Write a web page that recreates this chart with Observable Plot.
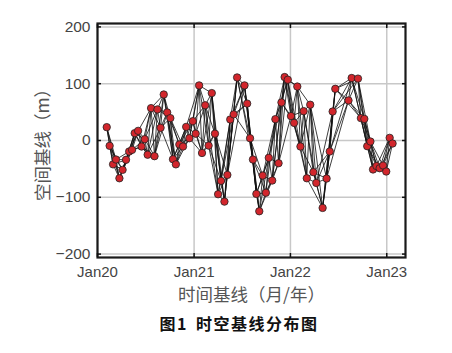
<!DOCTYPE html>
<html>
<head>
<meta charset="utf-8">
<script src="https://cdn.jsdelivr.net/npm/d3@7"></script>
<script src="https://cdn.jsdelivr.net/npm/@observablehq/plot@0.6"></script>
<style>
  html, body { margin: 0; padding: 0; background: #fff; }
  #wrap { position: relative; width: 452px; height: 353px; overflow: hidden; }
  #caption { position: absolute; left: 239px; top: 311px; transform: translateX(-50%);
    font-family: "Noto Sans CJK SC", sans-serif; font-weight: bold; font-size: 16px;
    letter-spacing: 1.5px; word-spacing: 3px; color: #111; white-space: nowrap; }
</style>
</head>
<body>
<div id="wrap"><div id="chart"></div><div id="caption">图1 时空基线分布图</div></div>
<script>
// Acquisition dates and perpendicular (spatial) baselines
const dates = [
  "2020-02-05","2020-02-16","2020-02-29","2020-03-11","2020-03-24","2020-04-05","2020-04-18","2020-04-30",
  "2020-05-11","2020-05-21","2020-06-03","2020-06-16","2020-06-28","2020-07-09","2020-07-22","2020-08-04",
  "2020-08-15","2020-08-27","2020-09-08","2020-09-21","2020-10-03","2020-10-13","2020-10-24","2020-11-06",
  "2020-11-20","2020-12-02","2020-12-14","2020-12-27","2021-01-07","2021-01-20","2021-01-31","2021-02-12",
  "2021-02-25","2021-03-09","2021-03-21","2021-04-02","2021-04-13","2021-04-26","2021-05-07","2021-05-18",
  "2021-05-31","2021-06-13","2021-07-11","2021-07-21","2021-08-01","2021-08-12","2021-08-25","2021-09-05",
  "2021-09-18","2021-09-30","2021-10-11","2021-10-24","2021-11-05","2021-11-17","2021-11-28","2021-12-10",
  "2021-12-22","2022-01-03","2022-01-15","2022-01-27","2022-02-08","2022-02-20","2022-03-04","2022-03-17",
  "2022-03-29","2022-04-09","2022-05-03","2022-05-18","2022-05-30","2022-06-10","2022-06-20","2022-08-09",
  "2022-08-21","2022-09-14","2022-09-25","2022-10-08","2022-10-19","2022-10-31","2022-11-10","2022-11-23",
  "2022-12-05","2022-12-18","2022-12-30","2023-01-12","2023-01-23"
];
const baselines = [
  23.5, -9.4, -42, -33.5, -66.5, -51.7, -34, -19.4,
  -16.5, 12.9, 17, -10.6, 2.3, -25, 57, -27.6,
  54.7, 22.4, 81, 49.4, 39.4, -33, -42, -7,
  -10.6, 24, 4, 34, 12, 97, -22, 62,
  -9, 83.5, 12, -94.6, -71, -107.6, -60.6, 37,
  46, 111, 97, 65, 4, -33.5, -94, -124.6,
  -61.7, -92, -30.5, -70.5, 37.6, -40, 67, 111.7,
  107, 43, 31, 95, -10.6, 51.7, -66.5, 63,
  -55.8, -74.7, -118.7, -67, -19.4, 51, 91, 70.5,
  110, 109, 39.4, 38, -10, -1.8, -51, -45,
  -48.8, -44, -54.6, 4.7, -5.3
];
const xTickDates = ["2020-01-01","2021-01-01","2022-01-01","2023-01-01"];
const xTickLabels = ["Jan20","Jan21","Jan22","Jan23"];
const yTicks = [-200, -100, 0, 100, 200];
const xTitle = "时间基线（月/年）";
const yTitle = "空间基线（m）";
const maxNeighbours = 4; // each image paired with its following images

const parse = d3.utcParse("%Y-%m-%d");
const points = dates.map((d, i) => ({date: parse(d), b: baselines[i]}));
const pairs = [];
for (let i = 0; i < points.length; i++) {
  for (let j = 1; j <= maxNeighbours && i + j < points.length; j++) {
    pairs.push({a: points[i], c: points[i + j]});
  }
}
const xt = xTickDates.map(parse);
const labelOf = new Map(xt.map((d, i) => [+d, xTickLabels[i]]));

const tickFont = "Liberation Sans, Arial, sans-serif";
const cjkFont = "Noto Sans CJK SC, sans-serif";

const chart = Plot.plot({
  width: 452,
  height: 305,
  marginTop: 23,
  marginBottom: 48,
  marginLeft: 97,
  marginRight: 47,
  style: {fontFamily: tickFont, background: "#fff"},
  x: {type: "utc", domain: [parse("2020-01-01"), parse("2023-03-13")]},
  y: {domain: [-206, 206]},
  marks: [
    Plot.gridX(xt, {stroke: "#c8c8c8", strokeOpacity: 1, strokeWidth: 1.5}),
    Plot.gridY(yTicks, {stroke: "#c8c8c8", strokeOpacity: 1, strokeWidth: 1.5}),
    Plot.link(pairs, {x1: d => d.a.date, y1: d => d.a.b, x2: d => d.c.date, y2: d => d.c.b,
      stroke: "#111", strokeWidth: 0.9, strokeOpacity: 0.9}),
    Plot.dot(points, {x: "date", y: "b", r: 3.7, fill: "#d2262c", stroke: "#222", strokeWidth: 0.8}),
    Plot.frame({stroke: "#1a1a1a", strokeWidth: 2.2}),
    Plot.axisX(xt, {anchor: "bottom", tickSize: -4, tickFormat: () => "", stroke: "#111", strokeWidth: 1.5, label: null}),
    Plot.axisX(xt, {anchor: "top", tickSize: -4, tickFormat: () => "", stroke: "#111", strokeWidth: 1.5, label: null}),
    Plot.axisY(yTicks, {anchor: "left", tickSize: -4, tickFormat: () => "", stroke: "#111", strokeWidth: 1.5, label: null}),
    Plot.axisY(yTicks, {anchor: "right", tickSize: -4, tickFormat: () => "", stroke: "#111", strokeWidth: 1.5, label: null}),
    Plot.axisX(xt, {anchor: "bottom", tickSize: 0, tickPadding: 9, fontSize: 15, fill: "#444",
      tickFormat: d => labelOf.get(+d), label: null}),
    Plot.axisY(yTicks, {anchor: "left", tickSize: 0, tickPadding: 7, fontSize: 15.5, fill: "#444",
      tickFormat: d => (d < 0 ? "\u2212" + Math.abs(d) : String(d)), label: null}),
    Plot.text([xTitle], {text: d => d, frameAnchor: "bottom", lineAnchor: "middle", dy: 38, fontSize: 17.5,
      fontFamily: cjkFont, fill: "#555"}),
    Plot.text([yTitle], {text: d => d, frameAnchor: "left", textAnchor: "middle", lineAnchor: "middle",
      dx: -54, rotate: -90, fontSize: 17.5, fontFamily: cjkFont, fill: "#555"})
  ]
});
document.getElementById("chart").appendChild(chart);
</script>
</body>
</html>
